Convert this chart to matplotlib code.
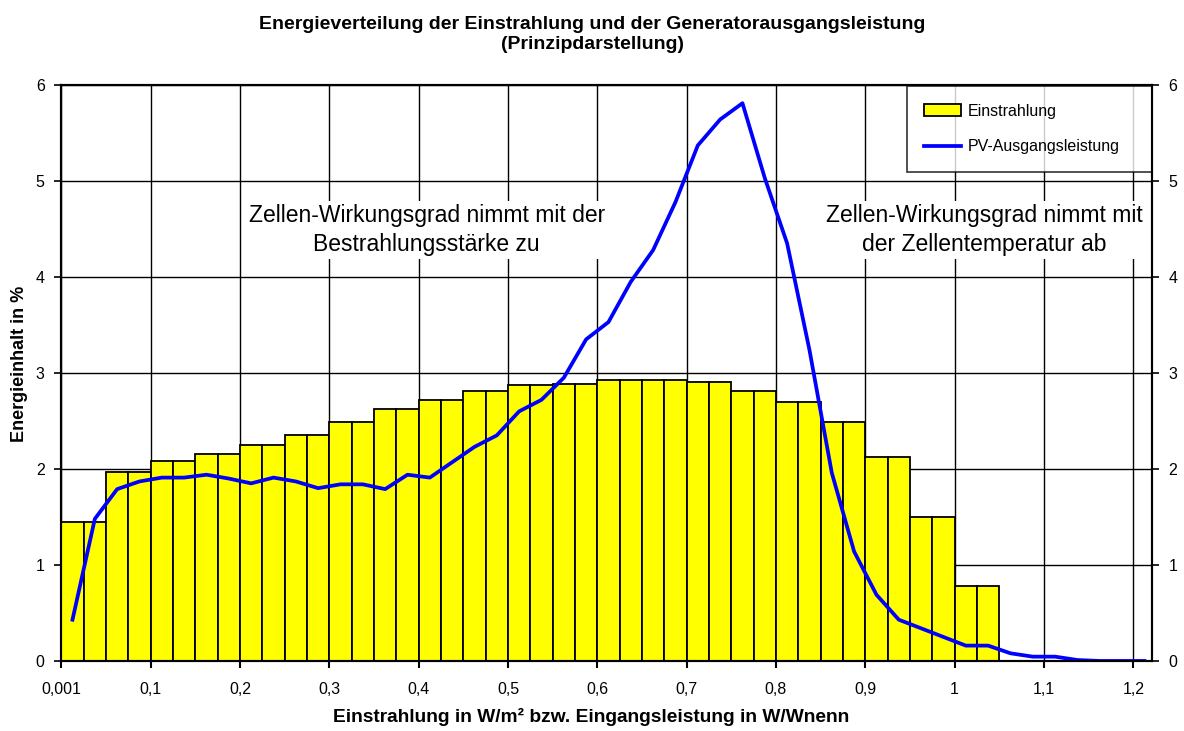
import numpy as np
import matplotlib
matplotlib.use("Agg")
import matplotlib.pyplot as plt

plt.rcParams["font.family"] = ["Liberation Sans", "DejaVu Sans"]

# bins of 0.025 W/m² (each 0.05 class drawn as two equal bars)
bar_heights = [1.45, 1.45, 1.97, 1.97, 2.08, 2.08, 2.16, 2.16, 2.25, 2.25,
               2.35, 2.35, 2.49, 2.49, 2.62, 2.62, 2.72, 2.72, 2.81, 2.81,
               2.87, 2.87, 2.89, 2.89, 2.93, 2.93, 2.93, 2.93, 2.91, 2.91,
               2.81, 2.81, 2.70, 2.70, 2.49, 2.49, 2.12, 2.12, 1.50, 1.50,
               0.78, 0.78]
pv_output = [0.43, 1.48, 1.79, 1.87, 1.91, 1.91, 1.94, 1.90, 1.85, 1.91,
             1.87, 1.80, 1.84, 1.84, 1.79, 1.94, 1.91, 2.07, 2.23, 2.35,
             2.60, 2.72, 2.95, 3.35, 3.53, 3.95, 4.28, 4.78, 5.37, 5.64,
             5.81, 5.03, 4.35, 3.24, 1.96, 1.14, 0.69, 0.43, 0.34, 0.25,
             0.16, 0.16, 0.08, 0.045, 0.045, 0.01, 0.0, 0.0, 0.0]
bin_width = 0.025
bar_x = np.arange(len(bar_heights)) * bin_width + bin_width / 2
line_x = np.arange(len(pv_output)) * bin_width + bin_width / 2

tick_pos = [0.0, 0.1, 0.2, 0.3, 0.4, 0.5, 0.6, 0.7, 0.8, 0.9, 1.0, 1.1, 1.2]
tick_labels = ["0,001", "0,1", "0,2", "0,3", "0,4", "0,5", "0,6", "0,7",
               "0,8", "0,9", "1", "1,1", "1,2"]

fig = plt.figure(figsize=(11.84, 7.31), dpi=100)
ax = fig.add_axes([0.0518, 0.0958, 0.9212, 0.788])

bars = ax.bar(bar_x, bar_heights, width=bin_width, color="#FFFF00",
              edgecolor="black", linewidth=1.3, label="Einstrahlung", zorder=2)
line, = ax.plot(line_x, pv_output, color="#0000FF", linewidth=2.7,
                label="PV-Ausgangsleistung", zorder=3)

ax.set_xlim(0, 1.221)
ax.set_ylim(0, 6)
ax.set_xticks(tick_pos)
ax.set_xticklabels(tick_labels, fontsize=11.5)
ax.set_yticks(range(7))
ax.tick_params(axis="y", labelsize=11.5, length=5, width=1.2, direction="out", pad=7)
ax.tick_params(axis="x", length=5, width=1.5, direction="out", pad=10)
ax.grid(True, color="black", linewidth=1.0, zorder=0)
ax.set_axisbelow(True)
for s in ax.spines.values():
    s.set_linewidth(1.5)
    s.set_color("black")

ax2 = ax.twinx()
ax2.set_ylim(0, 6)
ax2.set_yticks(range(7))
ax2.tick_params(axis="y", labelsize=11.5, length=5, width=1.2, direction="out", pad=7)
for s in ax2.spines.values():
    s.set_linewidth(1.5)

ax.set_ylabel("Energieinhalt in %", fontsize=13, fontweight="bold")
ax.yaxis.set_label_coords(-0.031, 0.516)
ax.set_xlabel("Einstrahlung in W/m² bzw. Eingangsleistung in W/Wnenn",
              fontsize=13.8, fontweight="bold")
ax.xaxis.set_label_coords(0.486, -0.081)
fig.text(0.5, 1 - 34.5 / 731,
         "Energieverteilung der Einstrahlung und der Generatorausgangsleistung\n(Prinzipdarstellung)",
         ha="center", va="center", fontsize=14, fontweight="bold", linespacing=1.3)

box = dict(facecolor="white", edgecolor="none", pad=2)
ax.text(0.409, 4.49, "Zellen-Wirkungsgrad nimmt mit der\nBestrahlungsstärke zu",
        ha="center", va="center", fontsize=16.5, linespacing=1.35, bbox=box, zorder=4)
ax.text(1.033, 4.49, "Zellen-Wirkungsgrad nimmt mit\nder Zellentemperatur ab",
        ha="center", va="center", fontsize=16.5, linespacing=1.35, bbox=box, zorder=4)

leg = ax.legend([bars, line], ["Einstrahlung", "PV-Ausgangsleistung"],
                loc="upper left", bbox_to_anchor=(0.775, 0.0, 0.225, 0.998),
                mode="expand", fontsize=11.5, frameon=True, fancybox=False,
                edgecolor="black", borderaxespad=0.0, labelspacing=1.3,
                handlelength=2.3, borderpad=1.1, handletextpad=0.45)
leg.get_frame().set_linewidth(1.2)
leg.set_zorder(5)

fig.savefig("out.png", dpi=100, facecolor="white")
